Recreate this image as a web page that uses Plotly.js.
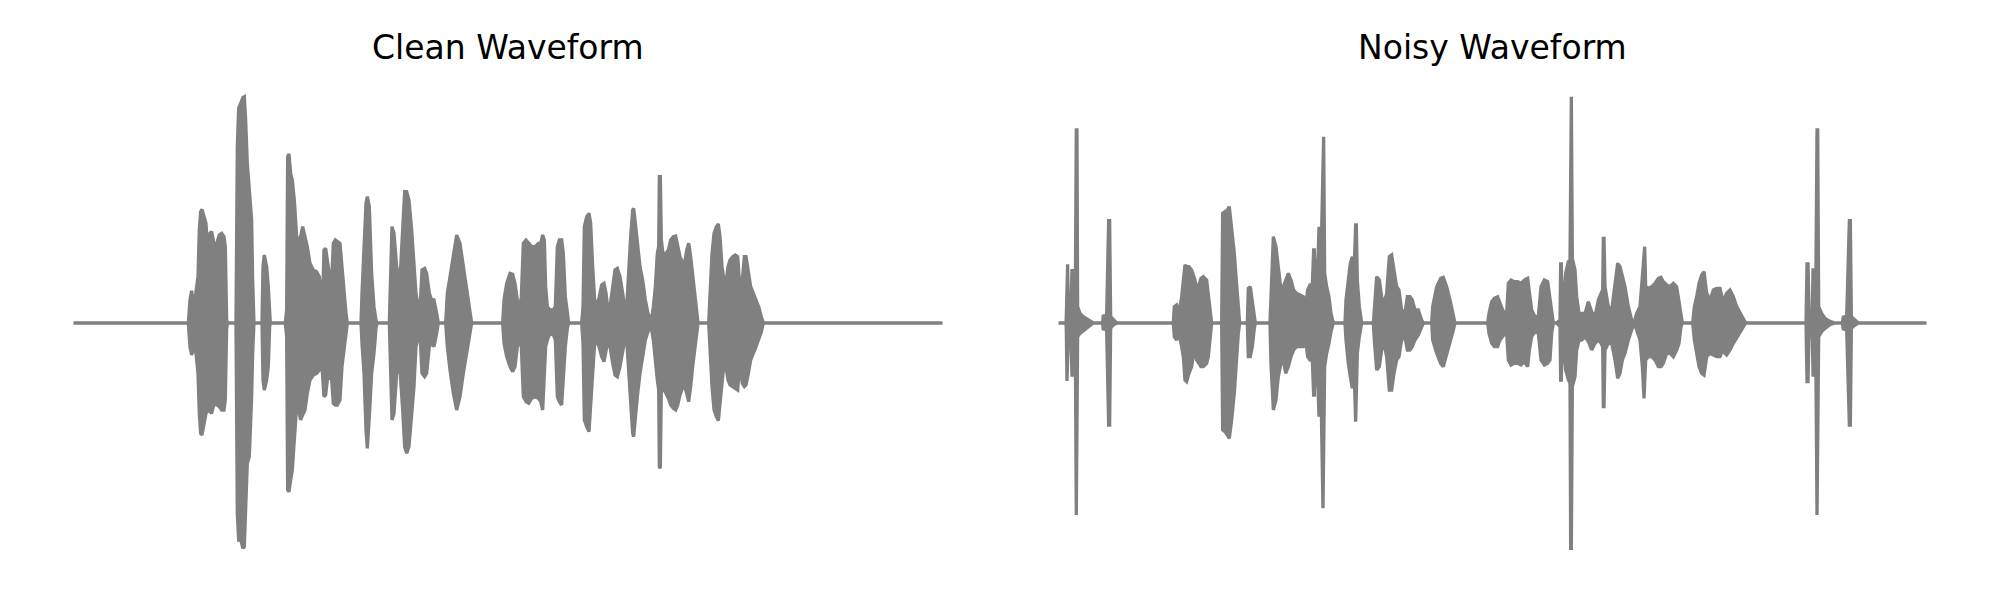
<!DOCTYPE html>
<html>
<head>
<meta charset="utf-8">
<script src="https://cdn.plot.ly/plotly-3.0.1.min.js"></script>
<style>html,body{margin:0;padding:0;background:#fff;}#chart{width:2000px;height:600px;}</style>
</head>
<body>
<div id="chart"></div>
<script>
// Envelope of each waveform: time (ms), upper and lower amplitude (arbitrary units)
const cleanT = [0,345,350,355,362,368,374,378,382,386,392,398,404,410,415,420,425,430,438,445,452,456,460,463,
488,492,496,502,509,513,517,522,528,532,535,538,542,
566,569,573,580,585,589,591,
636,640,643,647,652,657,663,670,676,682,688,695,702,710,720,730,738,744,749,752,757,762,770,775,780,786,792,800,806,812,818,822,
863,866,872,878,882,888,895,902,908,911,
948,952,956,962,970,980,988,994,1000,1007,1015,1022,1028,1035,1040,1046,1054,1060,1068,1075,1082,1090,1095,
1117,1122,1130,1140,1150,1160,1170,1180,1190,1195,
1288,1292,1300,1310,1318,1325,1332,1338,1344,1350,1358,1366,1375,1385,1395,1402,1408,1413,1417,1422,1430,1440,1446,1452,1458,1465,1470,1476,1482,1486,
1525,1529,1533,1540,1547,1552,1558,1564,1570,1577,1585,1592,1598,1604,1610,1618,1625,1632,1640,1648,1655,1660,1666,1672,1678,1681,1685,1692,1700,1708,1716,1724,1730,1735,
1740,1746,1752,1756,1758,1761,1764,1770,1777,1785,1792,1800,1807,1813,1820,1827,1833,1840,1846,1852,1858,1865,1870,1874,
1906,1910,1916,1922,1929,1935,1940,1946,1952,1958,1964,1970,1978,1986,1993,1998,2002,2007,2013,2018,2025,2032,2040,2048,2056,2064,2070,2608];
const cleanUp = [0,0,69,97,49,89,139,279,334,341,319,299,209,269,274,249,189,239,264,269,259,229,9,0,
0,529,644,659,677,679,609,479,409,369,309,129,0,
0,169,204,169,109,9,0,
0,39,499,507,449,429,369,259,249,259,289,259,229,179,159,154,139,89,109,219,224,189,129,129,239,249,244,239,169,89,29,0,
0,89,209,359,379,349,149,49,9,0,
0,169,289,269,169,129,259,394,394,369,279,189,89,49,39,159,164,149,89,69,69,29,0,
0,89,139,209,264,239,169,109,29,0,
0,69,119,149,146,119,69,39,79,239,249,239,229,229,239,239,264,249,109,49,39,39,49,229,249,249,209,79,19,0,
0,49,289,319,329,299,169,69,54,74,114,119,89,39,49,109,159,164,139,89,39,49,169,259,339,344,309,239,169,129,69,29,14,14,
49,109,209,229,439,439,249,199,209,219,249,259,261,229,199,184,174,219,239,199,149,89,29,0,
0,79,209,269,289,297,259,169,129,119,169,189,199,204,199,129,89,129,199,199,149,109,89,69,49,19,0,0];
const cleanLo = [0,0,-71,-96,-71,-91,-151,-271,-331,-336,-311,-271,-261,-266,-271,-251,-241,-246,-251,-261,-261,-231,-16,0,
0,-571,-651,-651,-676,-671,-531,-421,-401,-321,-221,-91,0,
0,-171,-201,-171,-131,-11,0,
0,-41,-501,-506,-471,-441,-351,-251,-261,-291,-276,-261,-211,-171,-156,-151,-141,-101,-171,-221,-216,-171,-161,-171,-241,-246,-246,-231,-131,-71,-31,0,
0,-61,-151,-321,-376,-281,-151,-91,-16,0,
0,-121,-291,-271,-151,-141,-261,-371,-391,-371,-271,-191,-71,-41,-31,-151,-161,-151,-71,-61,-71,-31,0,
0,-71,-141,-211,-261,-221,-151,-91,-26,0,
0,-61,-101,-131,-146,-131,-71,-51,-71,-221,-236,-241,-226,-221,-226,-236,-261,-171,-71,-51,-31,-36,-51,-221,-236,-246,-191,-71,-16,0,
0,-61,-291,-311,-326,-271,-151,-61,-56,-71,-101,-116,-91,-51,-71,-121,-156,-161,-131,-91,-46,-51,-151,-231,-331,-341,-291,-221,-151,-101,-51,-26,-16,-21,
-51,-101,-171,-201,-431,-436,-191,-196,-211,-226,-246,-256,-261,-246,-216,-196,-186,-211,-236,-191,-131,-71,-31,0,
0,-71,-191,-261,-281,-293,-261,-181,-121,-131,-171,-186,-191,-196,-201,-131,-151,-181,-191,-186,-151,-111,-91,-71,-51,-26,0,0];

const noisyT = [0,23,24,26,28,30,38,41,44,47,51,54,56,58,65,75,90,105,
133,135,142,145,151,154,157,165,175,
345,348,355,362,370,375,380,385,392,400,410,415,420,428,435,445,450,455,460,
490,493,500,507,513,520,528,534,540,544,
567,570,576,582,588,591,
635,638,645,653,660,668,675,682,690,698,706,715,725,735,743,748,755,762,766,768,771,777,782,784,787,794,796,799,805,812,818,825,
860,863,870,876,882,887,892,894,897,903,910,
945,948,955,963,970,977,985,993,1000,1007,1015,1022,1030,1040,1047,1055,1062,1070,1080,1090,1095,
1120,1123,1135,1147,1155,1165,1175,1185,1190,
1288,1292,1300,1308,1318,1325,1333,1340,1345,1350,1358,1368,1378,1388,1398,1408,1413,1420,1430,1440,1448,1458,1468,1475,1480,1485,
1495,1505,1507,1509,1512,1515,1522,1530,1535,1537,1539,1542,1550,1555,1562,1570,1580,1590,1600,1610,1620,1628,1633,1635,1637,1640,1650,1660,1670,1678,1685,1692,1700,1710,1720,1727,
1735,1745,1752,1757,1759,1762,1770,1780,1790,1800,1808,1815,1825,1835,1845,1855,1862,1868,1872,
1903,1908,1915,1922,1930,1937,1945,1955,1965,1975,1985,1993,2000,2005,2015,2025,2035,2045,2055,2062,
2243,2246,2249,2252,2262,2264,2267,2272,2276,2278,2281,2290,2300,2315,2330,
2352,2355,2362,2365,2373,2376,2379,2390,2400,2605];
const noisyUp = [0,0,19,176,176,39,39,157,157,129,79,579,579,49,29,19,9,0,
0,24,14,24,307,307,19,9,0,
0,49,54,29,79,129,174,169,169,159,129,99,109,134,139,129,79,49,0,
0,329,334,339,349,289,209,129,29,0,
0,104,109,69,19,0,
0,89,259,229,169,99,109,129,149,129,99,89,84,79,59,99,114,114,219,219,119,129,284,284,139,559,559,149,109,79,29,0,
0,69,139,179,199,149,294,294,129,49,0,
0,39,139,129,79,59,89,199,204,159,109,99,39,29,79,79,69,39,39,9,0,
0,49,109,134,137,109,69,29,0,
0,29,64,74,79,59,39,29,29,119,129,124,124,119,129,134,99,39,19,19,109,129,124,69,29,0,
0,9,177,177,19,49,149,184,189,679,679,194,159,79,29,29,29,64,34,19,69,89,99,254,254,109,49,39,129,179,169,139,109,49,9,0,
29,49,139,229,229,109,104,109,119,134,137,124,114,109,119,109,59,19,0,
0,49,79,119,144,154,89,69,99,104,104,69,79,89,99,79,49,29,9,0,
0,177,177,39,39,159,159,69,579,579,49,29,14,5,0,
0,21,11,21,307,307,19,9,0,0];
const noisyLo = [0,0,-21,-174,-174,-41,-41,-156,-156,-121,-61,-576,-576,-41,-31,-21,-11,0,
0,-21,-11,-21,-306,-306,-16,-6,0,
0,-41,-51,-31,-71,-101,-171,-176,-151,-131,-71,-111,-121,-131,-131,-121,-101,-41,0,
0,-321,-326,-336,-346,-291,-211,-121,-31,0,
0,-101,-101,-71,-16,0,
0,-121,-261,-231,-161,-121,-111,-151,-131,-101,-81,-71,-71,-71,-61,-101,-111,-111,-216,-216,-101,-131,-281,-281,-141,-556,-556,-131,-91,-61,-26,0,
0,-51,-121,-161,-196,-131,-296,-296,-91,-41,0,
0,-51,-141,-131,-81,-61,-101,-201,-201,-151,-111,-101,-51,-41,-81,-81,-71,-51,-36,-11,0,
0,-51,-91,-121,-131,-101,-61,-21,0,
0,-31,-61,-71,-71,-51,-41,-31,-31,-111,-126,-121,-121,-126,-116,-131,-81,-41,-26,-31,-111,-126,-121,-111,-31,0,
0,-11,-171,-171,-21,-51,-141,-171,-181,-676,-676,-191,-161,-81,-51,-51,-41,-56,-81,-61,-51,-61,-71,-251,-251,-81,-61,-61,-111,-166,-151,-111,-91,-51,-21,0,
-21,-51,-131,-226,-226,-111,-101,-101,-111,-131,-131,-121,-91,-91,-101,-81,-61,-11,0,
0,-51,-91,-131,-151,-156,-101,-91,-96,-101,-101,-81,-91,-96,-81,-61,-46,-31,-11,0,
0,-176,-176,-31,-41,-156,-156,-51,-576,-576,-41,-26,-16,-5,0,
0,-21,-11,-21,-306,-306,-16,-6,0,0];

const titles = ["Clean Waveform", "Noisy Waveform"];
const waveColor = "#808080";

function outline(t, up, lo) {
  return {
    x: t.concat(t.slice().reverse()),
    y: up.concat(lo.slice().reverse())
  };
}
const c = outline(cleanT, cleanUp, cleanLo);
const n = outline(noisyT, noisyUp, noisyLo);

const traces = [
  {x: c.x, y: c.y, xaxis: "x", yaxis: "y", type: "scatter", mode: "lines", fill: "toself",
   fillcolor: waveColor, line: {color: waveColor, width: 3.3, shape: "linear"}, hoverinfo: "skip", showlegend: false},
  {x: n.x, y: n.y, xaxis: "x2", yaxis: "y2", type: "scatter", mode: "lines", fill: "toself",
   fillcolor: waveColor, line: {color: waveColor, width: 3.3, shape: "linear"}, hoverinfo: "skip", showlegend: false}
];

const d1 = [73.3/2000, 942.7/2000];
const d2 = [1058.3/2000, 1926.7/2000];
const layout = {
  width: 2000, height: 600,
  margin: {l: 0, r: 0, t: 0, b: 0, pad: 0},
  paper_bgcolor: "#ffffff", plot_bgcolor: "#ffffff",
  showlegend: false,
  xaxis: {domain: d1, range: [0, 2608], visible: false, fixedrange: true},
  yaxis: {domain: [0, 1], range: [-831, 969], visible: false, fixedrange: true},
  xaxis2: {domain: d2, range: [0, 2605], visible: false, fixedrange: true, anchor: "y2"},
  yaxis2: {domain: [0, 1], range: [-831, 969], visible: false, fixedrange: true, anchor: "x2"},
  annotations: [
    {text: titles[0], xref: "paper", yref: "paper", x: (d1[0]+d1[1])/2, y: 1 - 47.5/600, xanchor: "center", yanchor: "middle",
     showarrow: false, font: {family: "DejaVu Sans", size: 33, color: "#000000"}},
    {text: titles[1], xref: "paper", yref: "paper", x: (d2[0]+d2[1])/2, y: 1 - 47.5/600, xanchor: "center", yanchor: "middle",
     showarrow: false, font: {family: "DejaVu Sans", size: 33, color: "#000000"}}
  ]
};
Plotly.newPlot("chart", traces, layout, {displayModeBar: false, staticPlot: true});
</script>
</body>
</html>
